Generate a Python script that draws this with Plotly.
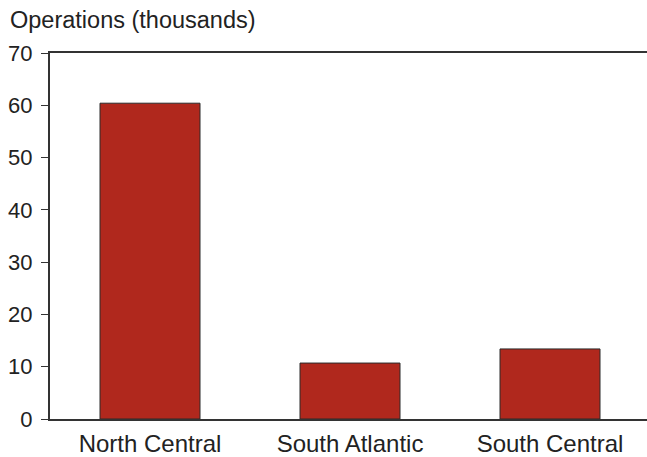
import plotly.graph_objects as go

categories = ["North Central", "South Atlantic", "South Central"]
operations = [60.4, 10.7, 13.4]
y_ticks = [0, 10, 20, 30, 40, 50, 60, 70]

fig = go.Figure()
fig.add_trace(go.Bar(
    x=categories, y=operations, width=0.5,
    marker=dict(color="#b0281d", line=dict(color="#2a2a2a", width=1)),
))

fam = "Liberation Sans, Arial, sans-serif"
fig.update_layout(
    width=647, height=457,
    margin=dict(l=50, r=0, t=53, b=38),
    plot_bgcolor="white", paper_bgcolor="white",
    showlegend=False, font=dict(family=fam, size=22, color="#222222"),
    xaxis=dict(range=[-0.5, 2.485], showline=True, linecolor="#333333", linewidth=2,
               ticks="", showgrid=False, mirror=True,
               tickfont=dict(family=fam, size=24, color="#222222"), ticklabelstandoff=2),
    yaxis=dict(range=[0, 70], tickvals=y_ticks, showline=True, linecolor="#333333",
               linewidth=2, ticks="outside", ticklen=7, tickcolor="#333333",
               showgrid=False, zeroline=False,
               tickfont=dict(family=fam, size=22, color="#222222"), ticklabelstandoff=4),
    annotations=[dict(text="Operations (thousands)", x=0, y=1, xref="paper", yref="paper",
                      xshift=-42, yshift=18, xanchor="left", yanchor="bottom",
                      showarrow=False, font=dict(family=fam, size=23.5, color="#222222"))],
)
fig.write_html("out.html", config={"displayModeBar": False},
               post_script="document.body.style.margin='0';")
